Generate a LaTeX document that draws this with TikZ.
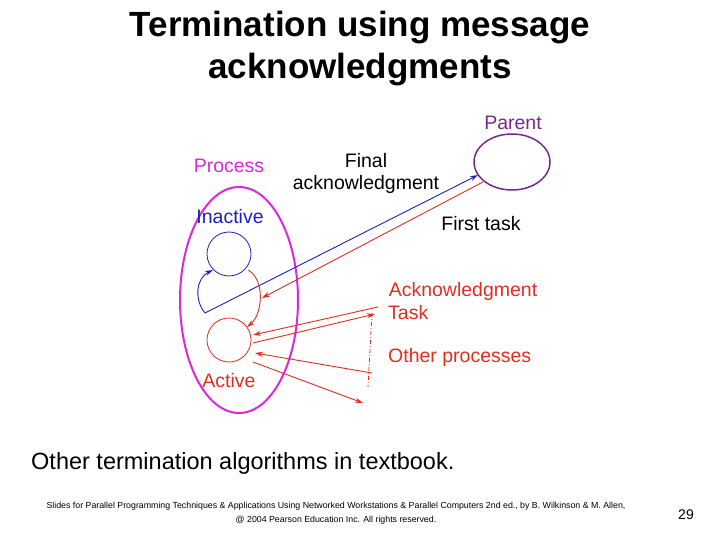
\documentclass[tikz,border=0pt]{standalone}
\usepackage{fontspec}
\setmainfont{Liberation Sans}
\usetikzlibrary{arrows.meta,shapes.geometric}
\definecolor{mag}{RGB}{220,40,220}
\definecolor{pur}{RGB}{120,40,140}
\definecolor{rd}{RGB}{225,45,30}
\definecolor{bl}{RGB}{30,30,190}
\begin{document}
\begin{tikzpicture}[x=1pt,y=-1pt,
  lbl/.style={inner sep=0,font=\fontsize{19.5}{22}\selectfont},
  arr/.style={line width=0.9pt,-{Stealth[length=8pt,width=5pt]}},
  st/.style={draw=rd,line width=0.8pt,circle,minimum size=44pt,inner sep=0}]
\useasboundingbox (0,0) rectangle (720,540);
\node[inner sep=0,align=center,font=\bfseries\fontsize{35}{42}\selectfont] (title) at (360,49) {Termination using message\\acknowledgments};
\draw[mag,line width=2pt] (239,300) ellipse [x radius=59,y radius=113];
\node[draw=pur,line width=1.5pt,ellipse,minimum width=76pt,minimum height=56pt,inner sep=0] (par) at (512,162) {};
\node[st,draw=bl] (ina) at (229,254) {};
\node[st] (act) at (229,340) {};
\node[lbl,text=pur] (tp) at (513,123) {Parent};
\node[lbl,text=mag] (tproc) at (229,166) {Process};
\node[lbl,align=center] (tf) at (366,173) {Final\\acknowledgment};
\node[lbl] (tft) at (481,224) {First task};
\node[lbl,text=bl] (tin) at (230,217) {Inactive};
\node[lbl,text=rd] (tack) at (463,291) {Acknowledgment};
\node[lbl,text=rd,anchor=west] (ttask) at (388,313) {Task};
\node[lbl,text=rd,anchor=west] (toth) at (388,357) {Other processes};
\node[lbl,text=rd] (tact) at (229,381) {Active};
\coordinate (bs) at (205,313);
\coordinate (pb) at (478,175);
\coordinate (pr) at (483,182);
\coordinate (fe) at (262,298);
\coordinate (a1) at (378,307);
\coordinate (a2) at (375,314);
\coordinate (a3) at (372,373);
\coordinate (a4) at (363,403);
\coordinate (d1) at (372,313);
\coordinate (d2) at (368,387);
\draw[bl,arr] (bs) -- (pb);
\draw[bl,arr] (bs) .. controls (194,300) and (196,278) .. (213,270);
\draw[rd,arr] (pr) -- (fe);
\draw[rd,arr] (248,270) .. controls (266,280) and (262,315) .. (247,327);
\draw[rd,arr] (a1) -- (253,335);
\draw[rd,arr] (253,343) -- (a2);
\draw[rd,arr] (a3) -- (255,353);
\draw[rd,arr] (253,362) -- (a4);
\draw[rd,line width=0.8pt,dash pattern=on 4pt off 2pt on 1pt off 2pt] (d1) -- (d2);
\node[anchor=west,inner sep=0,font=\fontsize{23.5}{26}\selectfont] (oth) at (31,463) {Other termination algorithms in textbook.};
\node[inner sep=0,align=center,font=\fontsize{8.8}{14}\selectfont] (foot) at (336,513) {Slides for Parallel Programming Techniques \& Applications Using Networked Workstations \& Parallel Computers 2nd ed., by B. Wilkinson \& M. Allen,\\@ 2004 Pearson Education Inc. All rights reserved.};
\node[inner sep=0,font=\fontsize{14}{16}\selectfont] (pg) at (686,515) {29};
\end{tikzpicture}
\end{document}
